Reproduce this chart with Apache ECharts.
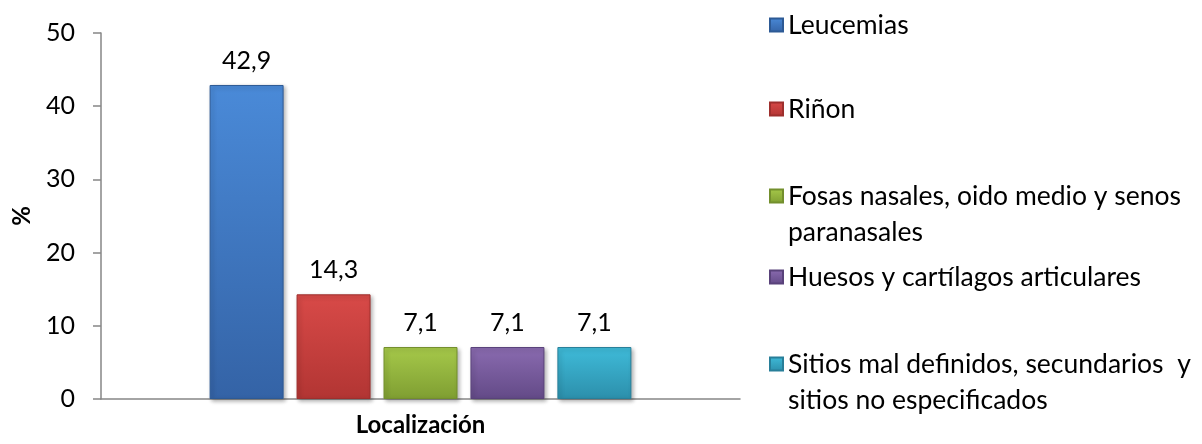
<!DOCTYPE html>
<html lang="es">
<head>
<meta charset="UTF-8">
<title>Localización</title>
<script src="https://cdn.jsdelivr.net/npm/echarts@6/dist/echarts.min.js"></script>
<style>
  html, body { margin: 0; padding: 0; background: #fff; }
  #main { width: 1202px; height: 444px; }
</style>
</head>
<body>
<div id="main"></div>
<script type="text/javascript">
    // datos del grafico
    var categorias = ['Localización'];
    var series_nombres = [
        'Leucemias',
        'Riñon',
        'Fosas nasales, oido medio y senos paranasales',
        'Huesos y cartílagos articulares',
        'Sitios mal definidos, secundarios  y sitios no especificados'
    ];
    var valores = [42.9, 14.3, 7.1, 7.1, 7.1];
    var ticks_y = [0, 10, 20, 30, 40, 50];

    // colores (claro arriba, oscuro abajo, borde)
    var colores = [
        ['#4a8ad8', '#3463a6', '#2d5a95'],
        ['#d84a48', '#b23533', '#9e2f2d'],
        ['#a6c94a', '#7f9e32', '#738f2d'],
        ['#8a6bb0', '#634a87', '#59427a'],
        ['#3fbbd9', '#2c8fab', '#287f99']
    ];
    // leyenda: lineas de texto y centro vertical de cada marcador
    var leyenda_texto = [
        'Leucemias',
        'Riñon',
        'Fosas nasales, oido medio y senos\nparanasales',
        'Huesos y cartílagos articulares',
        'Sitios mal definidos, secundarios  y\nsitios no especificados'
    ];
    var leyenda_y = [24, 108, 193, 276, 361];

    var fuente = 'Lato, "Open Sans", sans-serif';
    var chart = echarts.init(document.getElementById('main'));

    var series = [];
    var legends = [];
    for (var i = 0; i < series_nombres.length; i++) {
        var c = colores[i];
        series.push({
            name: series_nombres[i],
            type: 'bar',
            barWidth: 74,
            barGap: '17.5%',
            data: [valores[i]],
            itemStyle: {
                color: new echarts.graphic.LinearGradient(0, 0, 0, 1, [
                    {offset: 0, color: c[0]},
                    {offset: 1, color: c[1]}
                ]),
                borderColor: c[2],
                borderWidth: 1,
                shadowBlur: 4,
                shadowOffsetX: 2,
                shadowOffsetY: 2,
                shadowColor: 'rgba(0,0,0,0.3)'
            },
            label: {
                show: true,
                position: 'top',
                distance: 12,
                color: '#000',
                fontFamily: fuente,
                fontSize: 25,
                formatter: function (p) {
                    return p.value.toFixed(1).replace('.', ',');
                }
            }
        });
        var multi = leyenda_texto[i].indexOf('\n') >= 0;
        (function (idx, multi) {
            // con dos lineas se antepone una linea vacia para que el marcador quede en la primera
            legends.push({
                orient: 'vertical',
                left: 764,
                top: multi ? leyenda_y[idx] - 56 : leyenda_y[idx] - 22,
                itemWidth: 13,
                itemHeight: 13,
                itemGap: 0,
                icon: 'rect',
                selectedMode: false,
                data: [series_nombres[idx]],
                formatter: function () {
                    return multi ? ' \n' + leyenda_texto[idx] : leyenda_texto[idx];
                },
                textStyle: {
                    color: '#000',
                    fontFamily: fuente,
                    fontSize: 26.5,
                    lineHeight: 36
                }
            });
        })(i, multi);
    }

    chart.setOption({
        animation: false,
        textStyle: {fontFamily: fuente},
        legend: legends,
        grid: {left: 101, right: 462, top: 33, bottom: 45, containLabel: false, outerBoundsMode: 'none'},
        xAxis: {
            type: 'category',
            data: categorias,
            name: 'Localización',
            nameLocation: 'middle',
            nameGap: 14,
            nameTextStyle: {color: '#000', fontSize: 24, fontWeight: 'bold', fontFamily: fuente},
            axisLine: {lineStyle: {color: '#868686', width: 1.5}},
            axisTick: {show: false},
            axisLabel: {show: false}
        },
        yAxis: {
            type: 'value',
            min: ticks_y[0],
            max: ticks_y[ticks_y.length - 1],
            interval: 10,
            name: '%',
            nameLocation: 'middle',
            nameGap: 67,
            nameTextStyle: {color: '#000', fontSize: 24, fontWeight: 'bold', fontFamily: fuente},
            axisLine: {show: true, lineStyle: {color: '#868686', width: 1.5}},
            axisTick: {show: true, length: 8, lineStyle: {color: '#868686', width: 1.5}},
            axisLabel: {color: '#000', fontSize: 25, margin: 26, fontFamily: fuente},
            splitLine: {show: false}
        },
        series: series
    });
</script>
</body>
</html>
